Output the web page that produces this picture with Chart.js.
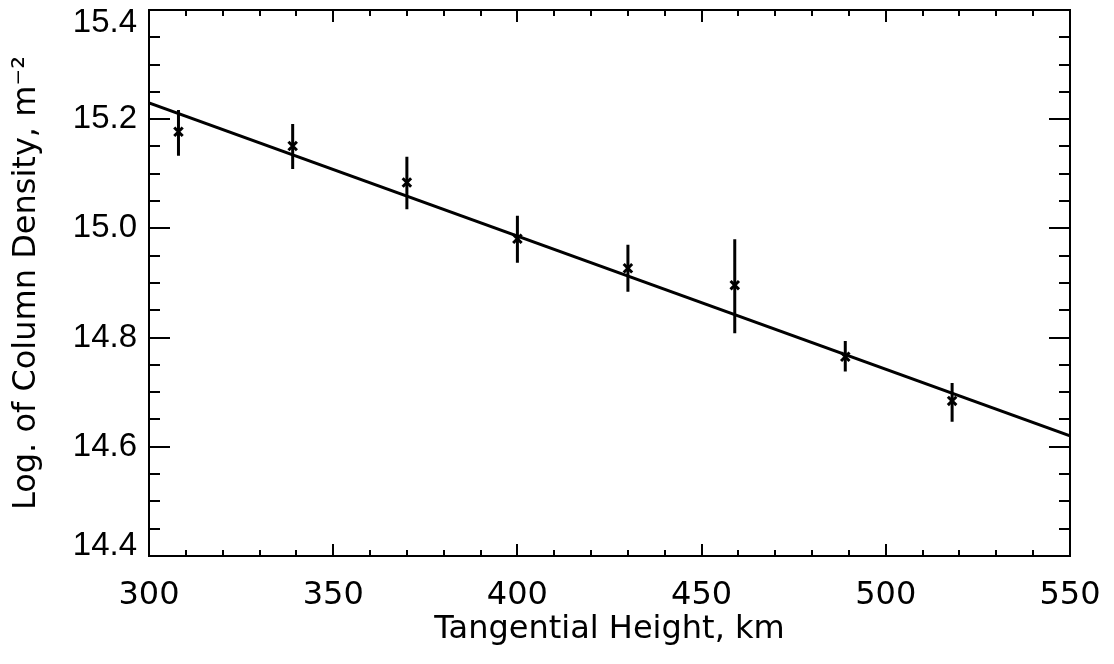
<!DOCTYPE html>
<html>
<head>
<meta charset="utf-8">
<title>Log. of Column Density vs Tangential Height</title>
<script src="https://cdn.jsdelivr.net/npm/chart.js@4/dist/chart.umd.min.js"></script>
<style>
  html, body { margin: 0; padding: 0; background: #fff; }
  #wrap { width: 1114px; height: 664px; }
</style>
</head>
<body>
<div id="wrap"><canvas id="chart" width="1114" height="664"></canvas></div>
<script>
// measured points (km, log10 column density) + error bar ends
const heights    = [308, 339, 370, 400, 430, 459, 489, 518];
const logDensity = [15.177, 15.151, 15.084, 14.981, 14.927, 14.896, 14.765, 14.684];
const errLow     = [15.133, 15.109, 15.035, 14.937, 14.884, 14.808, 14.738, 14.646];
const errHigh    = [15.217, 15.191, 15.131, 15.023, 14.970, 14.980, 14.794, 14.717];

// straight-line fit
const fitX = [300, 550];
const fitY = [15.23, 14.62];

// axes
const xMajorTicks = [300, 350, 400, 450, 500, 550];
const yMajorTicks = [14.4, 14.6, 14.8, 15.0, 15.2, 15.4];
const xMinorStep  = 10;
const yMinorStep  = 0.05;

const INK = '#000';

function errorBarData() {
  const out = [];
  heights.forEach((h, i) => {
    out.push({ x: h, y: errLow[i] });
    out.push({ x: h, y: errHigh[i] });
    out.push({ x: h, y: null });
  });
  return out;
}

// end labels sit inside the frame in the original: push 15.4 down, 14.4 up
function yLabel(v) {
  const s = v.toFixed(1);
  if (Math.abs(v - 15.4) < 1e-6) return ['', s];
  if (Math.abs(v - 14.4) < 1e-6) return [s, ''];
  return s;
}
function yLabelFont(ctx) {
  const v = ctx.tick ? ctx.tick.value : 0;
  let lh = 1.2;
  if (Math.abs(v - 15.4) < 1e-6) lh = 26 / 33;
  if (Math.abs(v - 14.4) < 1e-6) lh = 20 / 33;
  return { family: 'Liberation Sans', size: 33, lineHeight: lh };
}

// box round the plot + ticks pointing inward on all four sides (IDL look)
const frameTicks = {
  id: 'frameTicks',
  afterDatasetsDraw(chart) {
    const { ctx, chartArea: a, scales: { x, y } } = chart;
    ctx.save();
    ctx.strokeStyle = INK;
    ctx.lineWidth = 2;
    ctx.strokeRect(a.left, a.top, a.right - a.left, a.bottom - a.top);

    ctx.beginPath();
    // x ticks, bottom and top
    for (let v = x.min; v <= x.max + 1e-9; v += xMinorStep) {
      const px = Math.round(x.getPixelForValue(v));
      const len = xMajorTicks.some(t => Math.abs(t - v) < 1e-6) ? 12 : 6;
      ctx.moveTo(px, a.bottom); ctx.lineTo(px, a.bottom - len);
      ctx.moveTo(px, a.top);    ctx.lineTo(px, a.top + len);
    }
    // y ticks, left and right
    for (let v = y.min; v <= y.max + 1e-9; v += yMinorStep) {
      const py = Math.round(y.getPixelForValue(v));
      const len = yMajorTicks.some(t => Math.abs(t - v) < 1e-6) ? 21 : 11;
      ctx.moveTo(a.left, py);  ctx.lineTo(a.left + len, py);
      ctx.moveTo(a.right, py); ctx.lineTo(a.right - len, py);
    }
    ctx.stroke();
    ctx.restore();
  }
};

new Chart(document.getElementById('chart'), {
  type: 'scatter',
  data: {
    datasets: [
      {
        label: 'fit',
        type: 'line',
        data: fitX.map((v, i) => ({ x: v, y: fitY[i] })),
        borderColor: INK, borderWidth: 3,
        pointRadius: 0, fill: false
      },
      {
        label: 'errors',
        type: 'line',
        data: errorBarData(),
        borderColor: INK, borderWidth: 3,
        pointRadius: 0, spanGaps: false, fill: false
      },
      {
        label: 'points',
        data: heights.map((h, i) => ({ x: h, y: logDensity[i] })),
        pointStyle: 'crossRot', pointRadius: 6,
        borderColor: INK, borderWidth: 3,
        backgroundColor: INK
      }
    ]
  },
  options: {
    responsive: false,
    animation: false,
    events: [],
    layout: { padding: { left: 0, right: 44, top: 10, bottom: 0 } },
    plugins: { legend: { display: false }, tooltip: { enabled: false } },
    scales: {
      x: {
        type: 'linear', min: 300, max: 550,
        afterBuildTicks: s => { s.ticks = xMajorTicks.map(v => ({ value: v })); },
        afterFit: s => { s.height = 108; s.paddingLeft = 0; s.paddingRight = 0; },
        grid: { display: false, drawTicks: false },
        border: { display: false },
        ticks: {
          color: INK, padding: 20, maxRotation: 0,
          font: { family: 'DejaVu Sans', size: 32 }
        },
        title: {
          display: true, text: 'Tangential Height, km', color: INK,
          font: { family: 'DejaVu Sans', size: 32 },
          padding: { top: 0, bottom: 15 }
        }
      },
      y: {
        type: 'linear', min: 14.4, max: 15.4,
        afterBuildTicks: s => { s.ticks = yMajorTicks.map(v => ({ value: v })); },
        afterFit: s => { s.width = 149; s.paddingTop = 0; s.paddingBottom = 0; },
        grid: { display: false, drawTicks: false },
        border: { display: false },
        ticks: {
          color: INK, padding: 12,
          font: yLabelFont,
          callback: yLabel
        },
        title: {
          display: true, text: 'Log. of Column Density, m\u207B\u00B2', color: INK,
          font: { family: 'DejaVu Sans', size: 32 },
          padding: { top: 7, bottom: 0 }
        }
      }
    }
  },
  plugins: [frameTicks]
});
</script>
</body>
</html>
